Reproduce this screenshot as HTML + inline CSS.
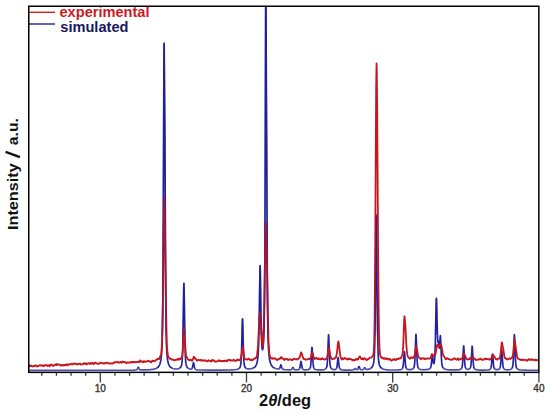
<!DOCTYPE html>
<html><head><meta charset="utf-8"><style>
html,body{margin:0;padding:0;background:#fff;width:550px;height:414px;overflow:hidden}
svg{display:block}
.tk{stroke:#3a3a3a;stroke-width:1.3}
.tl{font-family:"Liberation Sans",sans-serif;font-size:10px;fill:#333;stroke:#333;stroke-width:0.35;text-anchor:middle}
.lg{font-family:"Liberation Sans",sans-serif;font-weight:bold;font-size:14.6px}
</style></head><body>
<svg width="550" height="414" viewBox="0 0 550 414">
<defs><clipPath id="c"><rect x="28.75" y="6.25" width="510.1" height="366.1"/></clipPath>
<clipPath id="cu"><rect x="28.75" y="6.25" width="510.1" height="362.4"/></clipPath>
<clipPath id="co"><rect x="28.75" y="6.25" width="510.1" height="328.8"/></clipPath>
<clipPath id="cl"><rect x="28.75" y="368.6" width="510.1" height="3.8"/></clipPath></defs>
<rect width="550" height="414" fill="#fff"/>
<g clip-path="url(#c)" fill="none" stroke-linejoin="round">
<path d="M27.75 370.29 L108.95 370.24 L133.75 370.11 L135.75 370.00 L136.75 369.75 L137.35 369.13 L138.15 367.48 L138.35 367.40 L138.55 367.63 L139.35 369.26 L139.75 369.65 L140.15 369.82 L142.15 369.97 L146.95 369.86 L150.15 369.67 L152.55 369.40 L154.35 369.07 L155.95 368.56 L157.15 367.94 L158.15 367.12 L158.95 366.11 L159.75 364.51 L160.35 362.61 L160.95 359.60 L161.35 356.48 L161.75 351.73 L162.15 343.46 L162.55 325.59 L162.95 283.06 L163.15 246.14 L163.95 45.68 L164.15 43.34 L164.95 134.69 L165.55 266.00 L165.95 320.95 L166.35 342.60 L166.75 351.56 L167.35 358.22 L167.75 360.83 L168.35 363.37 L168.75 364.52 L169.35 365.75 L169.95 366.62 L170.75 367.40 L171.75 368.04 L172.75 368.45 L174.15 368.79 L175.55 368.95 L176.95 368.95 L178.15 368.79 L179.15 368.47 L179.95 367.97 L180.55 367.33 L180.95 366.67 L181.35 365.69 L181.75 364.09 L182.15 360.99 L182.35 358.19 L182.75 347.52 L183.75 285.92 L183.95 283.30 L184.15 290.76 L184.95 343.39 L185.35 356.34 L185.75 362.09 L186.15 364.69 L186.75 366.60 L187.55 367.86 L188.35 368.53 L189.55 369.02 L190.95 369.17 L191.35 369.10 L191.75 368.90 L192.15 368.36 L192.35 367.86 L193.35 362.90 L193.55 362.70 L193.75 363.33 L194.55 367.69 L194.95 368.77 L195.35 369.26 L195.75 369.49 L197.15 369.80 L200.95 370.01 L208.95 370.10 L222.15 370.08 L230.95 369.94 L234.35 369.77 L236.55 369.51 L238.15 369.07 L239.15 368.47 L239.95 367.46 L240.55 365.75 L240.95 362.99 L241.15 360.46 L241.55 351.32 L242.35 320.35 L242.55 318.80 L242.75 323.18 L243.55 354.13 L243.95 361.74 L244.15 363.77 L244.55 365.98 L245.15 367.41 L245.95 368.25 L246.55 368.57 L247.35 368.80 L249.15 368.91 L251.35 368.65 L252.35 368.39 L253.35 368.00 L254.15 367.55 L254.75 367.08 L255.35 366.45 L255.95 365.56 L256.55 364.26 L256.95 363.02 L257.35 361.29 L257.75 358.72 L258.15 354.54 L258.55 347.02 L259.15 322.84 L259.95 268.31 L260.15 265.50 L260.35 272.49 L261.15 325.32 L261.35 333.74 L261.75 344.09 L261.95 346.89 L262.15 348.61 L262.35 349.50 L262.55 349.75 L262.75 349.43 L263.15 347.16 L263.55 342.27 L263.75 338.41 L264.15 325.90 L264.55 299.98 L264.95 239.90 L265.75 -29.98 L265.95 -21.19 L266.35 87.77 L266.75 151.15 L267.35 280.97 L267.75 324.35 L268.15 341.37 L268.55 349.65 L268.95 354.68 L269.35 358.03 L269.95 361.30 L270.75 363.93 L271.15 364.82 L271.75 365.83 L272.35 366.57 L272.95 367.14 L273.75 367.70 L274.55 368.12 L275.55 368.49 L276.75 368.79 L277.95 368.96 L278.75 368.94 L279.35 368.70 L279.75 368.17 L280.75 364.92 L280.95 364.80 L281.15 365.22 L281.75 367.56 L282.15 368.58 L282.55 369.08 L283.15 369.38 L284.35 369.60 L286.55 369.77 L289.35 369.82 L290.95 369.72 L291.35 369.60 L291.75 369.30 L292.75 367.57 L292.95 367.50 L293.15 367.71 L293.95 369.20 L294.55 369.65 L295.95 369.83 L297.95 369.71 L298.75 369.49 L299.15 369.24 L299.55 368.67 L299.75 368.14 L300.15 366.33 L300.75 362.14 L300.95 361.40 L301.15 361.66 L302.15 367.79 L302.35 368.43 L302.75 369.13 L303.15 369.44 L303.55 369.59 L305.15 369.79 L307.35 369.71 L308.15 369.57 L308.95 369.31 L309.75 368.71 L310.15 368.03 L310.55 366.53 L310.75 365.15 L311.15 360.37 L311.75 349.35 L311.95 347.40 L312.15 348.09 L313.15 364.24 L313.55 367.04 L313.75 367.77 L314.15 368.59 L314.75 369.16 L315.55 369.51 L316.55 369.73 L317.95 369.86 L320.35 369.90 L322.55 369.79 L324.15 369.54 L325.15 369.17 L325.95 368.55 L326.55 367.54 L326.95 366.00 L327.15 364.58 L327.55 359.30 L328.35 337.84 L328.55 334.80 L328.75 335.87 L329.55 357.29 L329.95 363.60 L330.15 365.34 L330.55 367.24 L330.95 368.12 L331.55 368.80 L332.15 369.16 L332.75 369.37 L334.35 369.55 L335.55 369.35 L335.95 369.15 L336.35 368.72 L336.75 367.73 L336.95 366.83 L337.95 358.07 L338.15 357.70 L338.35 358.77 L338.95 364.78 L339.35 367.39 L339.55 368.14 L339.95 368.97 L340.35 369.35 L341.15 369.68 L342.55 369.91 L344.75 370.03 L349.15 370.08 L352.35 370.00 L353.15 369.90 L353.75 369.68 L354.75 368.78 L355.15 368.60 L356.35 369.48 L356.75 369.61 L357.15 369.59 L357.55 369.40 L357.95 368.90 L358.75 366.80 L358.95 366.50 L359.15 366.60 L360.15 369.06 L360.75 369.58 L361.75 369.73 L362.95 369.57 L363.55 369.15 L364.35 367.96 L364.55 367.80 L364.75 367.84 L365.55 368.93 L365.95 369.27 L366.55 369.45 L367.35 369.44 L368.95 369.17 L370.35 368.66 L371.35 367.98 L372.15 367.06 L372.75 365.93 L373.15 364.81 L373.55 363.19 L373.95 360.65 L374.35 355.99 L374.75 345.73 L375.15 322.65 L375.95 228.72 L376.15 215.02 L376.35 218.75 L377.15 299.74 L377.55 328.94 L377.95 348.95 L378.35 357.93 L378.55 360.21 L378.95 363.01 L379.35 364.73 L379.75 365.89 L380.35 367.05 L381.15 367.99 L382.35 368.78 L383.75 369.26 L385.75 369.62 L388.55 369.85 L393.75 369.99 L398.35 369.92 L400.55 369.68 L401.35 369.45 L401.95 369.13 L402.35 368.72 L402.75 367.91 L403.15 366.03 L403.55 362.12 L404.15 353.10 L404.35 351.50 L404.55 352.06 L405.55 365.25 L405.95 367.53 L406.35 368.52 L406.75 368.98 L407.35 369.32 L408.15 369.53 L409.35 369.64 L410.55 369.59 L411.75 369.38 L412.55 369.08 L413.15 368.67 L413.75 367.89 L414.15 366.83 L414.55 364.46 L414.75 362.30 L415.15 354.79 L415.75 337.47 L415.95 334.40 L416.15 335.48 L417.15 360.85 L417.55 365.25 L417.75 366.40 L418.15 367.68 L418.75 368.56 L419.15 368.89 L419.75 369.21 L420.95 369.53 L422.75 369.70 L425.55 369.66 L427.95 369.38 L429.35 368.94 L429.95 368.56 L430.35 368.13 L430.75 367.33 L431.15 365.61 L432.15 356.05 L432.35 355.50 L432.55 356.38 L433.15 361.68 L433.55 363.51 L433.75 363.73 L433.95 363.54 L434.15 362.97 L434.55 360.33 L434.95 354.31 L435.35 342.40 L436.15 303.32 L436.35 298.30 L436.55 299.56 L437.35 332.82 L437.75 341.21 L437.95 342.09 L438.35 341.00 L438.55 341.36 L439.15 347.45 L439.35 348.19 L439.55 347.29 L440.15 337.33 L440.35 335.50 L440.55 337.02 L441.35 356.93 L441.75 362.79 L442.15 365.58 L442.55 366.90 L443.15 367.90 L443.95 368.62 L445.35 369.24 L447.15 369.61 L449.95 369.85 L453.75 369.95 L456.95 369.91 L459.15 369.72 L460.55 369.32 L461.35 368.74 L461.75 368.13 L462.15 366.83 L462.55 363.84 L463.55 346.64 L463.75 345.90 L463.95 347.98 L464.55 359.69 L464.95 364.77 L465.15 366.23 L465.55 367.81 L465.95 368.52 L466.55 369.01 L467.15 369.23 L467.75 369.32 L468.55 369.28 L469.15 369.11 L469.95 368.54 L470.35 367.85 L470.55 367.24 L470.95 364.85 L471.15 362.73 L471.95 348.25 L472.15 346.20 L472.35 346.93 L473.15 361.44 L473.55 365.72 L473.75 366.90 L474.15 368.19 L474.55 368.80 L475.15 369.27 L476.35 369.70 L477.95 369.92 L480.75 370.05 L484.55 370.07 L486.95 369.99 L488.55 369.83 L489.55 369.57 L490.35 369.08 L490.75 368.50 L490.95 367.97 L491.35 365.98 L492.35 354.49 L492.55 354.00 L492.75 355.39 L493.55 365.17 L493.75 366.59 L494.15 368.21 L494.35 368.62 L494.75 369.09 L495.35 369.42 L495.95 369.57 L496.75 369.65 L497.75 369.59 L498.55 369.41 L499.15 369.12 L499.55 368.75 L499.95 368.04 L500.35 366.40 L500.75 362.80 L501.55 350.61 L501.75 350.00 L501.95 351.73 L502.75 363.95 L503.15 366.96 L503.55 368.29 L503.95 368.88 L504.35 369.21 L504.95 369.48 L505.95 369.70 L507.35 369.79 L508.95 369.72 L510.15 369.51 L510.95 369.21 L511.75 368.60 L512.35 367.59 L512.75 366.04 L512.95 364.62 L513.35 359.32 L514.15 337.76 L514.35 334.70 L514.55 335.78 L515.35 357.32 L515.75 363.67 L516.15 366.58 L516.55 367.87 L516.95 368.53 L517.55 369.09 L518.55 369.57 L519.75 369.84 L521.35 370.01 L526.95 370.19 L539.75 370.26" stroke="#2222a2" stroke-width="1.65" clip-path="url(#cu)"/>
<path d="M27.75 370.29 L108.95 370.24 L133.75 370.11 L135.75 370.00 L136.75 369.75 L137.35 369.13 L138.15 367.48 L138.35 367.40 L138.55 367.63 L139.35 369.26 L139.75 369.65 L140.15 369.82 L142.15 369.97 L146.95 369.86 L150.15 369.67 L152.55 369.40 L154.35 369.07 L155.95 368.56 L157.15 367.94 L158.15 367.12 L158.95 366.11 L159.75 364.51 L160.35 362.61 L160.95 359.60 L161.35 356.48 L161.75 351.73 L162.15 343.46 L162.55 325.59 L162.95 283.06 L163.15 246.14 L163.95 45.68 L164.15 43.34 L164.95 134.69 L165.55 266.00 L165.95 320.95 L166.35 342.60 L166.75 351.56 L167.35 358.22 L167.75 360.83 L168.35 363.37 L168.75 364.52 L169.35 365.75 L169.95 366.62 L170.75 367.40 L171.75 368.04 L172.75 368.45 L174.15 368.79 L175.55 368.95 L176.95 368.95 L178.15 368.79 L179.15 368.47 L179.95 367.97 L180.55 367.33 L180.95 366.67 L181.35 365.69 L181.75 364.09 L182.15 360.99 L182.35 358.19 L182.75 347.52 L183.75 285.92 L183.95 283.30 L184.15 290.76 L184.95 343.39 L185.35 356.34 L185.75 362.09 L186.15 364.69 L186.75 366.60 L187.55 367.86 L188.35 368.53 L189.55 369.02 L190.95 369.17 L191.35 369.10 L191.75 368.90 L192.15 368.36 L192.35 367.86 L193.35 362.90 L193.55 362.70 L193.75 363.33 L194.55 367.69 L194.95 368.77 L195.35 369.26 L195.75 369.49 L197.15 369.80 L200.95 370.01 L208.95 370.10 L222.15 370.08 L230.95 369.94 L234.35 369.77 L236.55 369.51 L238.15 369.07 L239.15 368.47 L239.95 367.46 L240.55 365.75 L240.95 362.99 L241.15 360.46 L241.55 351.32 L242.35 320.35 L242.55 318.80 L242.75 323.18 L243.55 354.13 L243.95 361.74 L244.15 363.77 L244.55 365.98 L245.15 367.41 L245.95 368.25 L246.55 368.57 L247.35 368.80 L249.15 368.91 L251.35 368.65 L252.35 368.39 L253.35 368.00 L254.15 367.55 L254.75 367.08 L255.35 366.45 L255.95 365.56 L256.55 364.26 L256.95 363.02 L257.35 361.29 L257.75 358.72 L258.15 354.54 L258.55 347.02 L259.15 322.84 L259.95 268.31 L260.15 265.50 L260.35 272.49 L261.15 325.32 L261.35 333.74 L261.75 344.09 L261.95 346.89 L262.15 348.61 L262.35 349.50 L262.55 349.75 L262.75 349.43 L263.15 347.16 L263.55 342.27 L263.75 338.41 L264.15 325.90 L264.55 299.98 L264.95 239.90 L265.75 -29.98 L265.95 -21.19 L266.35 87.77 L266.75 151.15 L267.35 280.97 L267.75 324.35 L268.15 341.37 L268.55 349.65 L268.95 354.68 L269.35 358.03 L269.95 361.30 L270.75 363.93 L271.15 364.82 L271.75 365.83 L272.35 366.57 L272.95 367.14 L273.75 367.70 L274.55 368.12 L275.55 368.49 L276.75 368.79 L277.95 368.96 L278.75 368.94 L279.35 368.70 L279.75 368.17 L280.75 364.92 L280.95 364.80 L281.15 365.22 L281.75 367.56 L282.15 368.58 L282.55 369.08 L283.15 369.38 L284.35 369.60 L286.55 369.77 L289.35 369.82 L290.95 369.72 L291.35 369.60 L291.75 369.30 L292.75 367.57 L292.95 367.50 L293.15 367.71 L293.95 369.20 L294.55 369.65 L295.95 369.83 L297.95 369.71 L298.75 369.49 L299.15 369.24 L299.55 368.67 L299.75 368.14 L300.15 366.33 L300.75 362.14 L300.95 361.40 L301.15 361.66 L302.15 367.79 L302.35 368.43 L302.75 369.13 L303.15 369.44 L303.55 369.59 L305.15 369.79 L307.35 369.71 L308.15 369.57 L308.95 369.31 L309.75 368.71 L310.15 368.03 L310.55 366.53 L310.75 365.15 L311.15 360.37 L311.75 349.35 L311.95 347.40 L312.15 348.09 L313.15 364.24 L313.55 367.04 L313.75 367.77 L314.15 368.59 L314.75 369.16 L315.55 369.51 L316.55 369.73 L317.95 369.86 L320.35 369.90 L322.55 369.79 L324.15 369.54 L325.15 369.17 L325.95 368.55 L326.55 367.54 L326.95 366.00 L327.15 364.58 L327.55 359.30 L328.35 337.84 L328.55 334.80 L328.75 335.87 L329.55 357.29 L329.95 363.60 L330.15 365.34 L330.55 367.24 L330.95 368.12 L331.55 368.80 L332.15 369.16 L332.75 369.37 L334.35 369.55 L335.55 369.35 L335.95 369.15 L336.35 368.72 L336.75 367.73 L336.95 366.83 L337.95 358.07 L338.15 357.70 L338.35 358.77 L338.95 364.78 L339.35 367.39 L339.55 368.14 L339.95 368.97 L340.35 369.35 L341.15 369.68 L342.55 369.91 L344.75 370.03 L349.15 370.08 L352.35 370.00 L353.15 369.90 L353.75 369.68 L354.75 368.78 L355.15 368.60 L356.35 369.48 L356.75 369.61 L357.15 369.59 L357.55 369.40 L357.95 368.90 L358.75 366.80 L358.95 366.50 L359.15 366.60 L360.15 369.06 L360.75 369.58 L361.75 369.73 L362.95 369.57 L363.55 369.15 L364.35 367.96 L364.55 367.80 L364.75 367.84 L365.55 368.93 L365.95 369.27 L366.55 369.45 L367.35 369.44 L368.95 369.17 L370.35 368.66 L371.35 367.98 L372.15 367.06 L372.75 365.93 L373.15 364.81 L373.55 363.19 L373.95 360.65 L374.35 355.99 L374.75 345.73 L375.15 322.65 L375.95 228.72 L376.15 215.02 L376.35 218.75 L377.15 299.74 L377.55 328.94 L377.95 348.95 L378.35 357.93 L378.55 360.21 L378.95 363.01 L379.35 364.73 L379.75 365.89 L380.35 367.05 L381.15 367.99 L382.35 368.78 L383.75 369.26 L385.75 369.62 L388.55 369.85 L393.75 369.99 L398.35 369.92 L400.55 369.68 L401.35 369.45 L401.95 369.13 L402.35 368.72 L402.75 367.91 L403.15 366.03 L403.55 362.12 L404.15 353.10 L404.35 351.50 L404.55 352.06 L405.55 365.25 L405.95 367.53 L406.35 368.52 L406.75 368.98 L407.35 369.32 L408.15 369.53 L409.35 369.64 L410.55 369.59 L411.75 369.38 L412.55 369.08 L413.15 368.67 L413.75 367.89 L414.15 366.83 L414.55 364.46 L414.75 362.30 L415.15 354.79 L415.75 337.47 L415.95 334.40 L416.15 335.48 L417.15 360.85 L417.55 365.25 L417.75 366.40 L418.15 367.68 L418.75 368.56 L419.15 368.89 L419.75 369.21 L420.95 369.53 L422.75 369.70 L425.55 369.66 L427.95 369.38 L429.35 368.94 L429.95 368.56 L430.35 368.13 L430.75 367.33 L431.15 365.61 L432.15 356.05 L432.35 355.50 L432.55 356.38 L433.15 361.68 L433.55 363.51 L433.75 363.73 L433.95 363.54 L434.15 362.97 L434.55 360.33 L434.95 354.31 L435.35 342.40 L436.15 303.32 L436.35 298.30 L436.55 299.56 L437.35 332.82 L437.75 341.21 L437.95 342.09 L438.35 341.00 L438.55 341.36 L439.15 347.45 L439.35 348.19 L439.55 347.29 L440.15 337.33 L440.35 335.50 L440.55 337.02 L441.35 356.93 L441.75 362.79 L442.15 365.58 L442.55 366.90 L443.15 367.90 L443.95 368.62 L445.35 369.24 L447.15 369.61 L449.95 369.85 L453.75 369.95 L456.95 369.91 L459.15 369.72 L460.55 369.32 L461.35 368.74 L461.75 368.13 L462.15 366.83 L462.55 363.84 L463.55 346.64 L463.75 345.90 L463.95 347.98 L464.55 359.69 L464.95 364.77 L465.15 366.23 L465.55 367.81 L465.95 368.52 L466.55 369.01 L467.15 369.23 L467.75 369.32 L468.55 369.28 L469.15 369.11 L469.95 368.54 L470.35 367.85 L470.55 367.24 L470.95 364.85 L471.15 362.73 L471.95 348.25 L472.15 346.20 L472.35 346.93 L473.15 361.44 L473.55 365.72 L473.75 366.90 L474.15 368.19 L474.55 368.80 L475.15 369.27 L476.35 369.70 L477.95 369.92 L480.75 370.05 L484.55 370.07 L486.95 369.99 L488.55 369.83 L489.55 369.57 L490.35 369.08 L490.75 368.50 L490.95 367.97 L491.35 365.98 L492.35 354.49 L492.55 354.00 L492.75 355.39 L493.55 365.17 L493.75 366.59 L494.15 368.21 L494.35 368.62 L494.75 369.09 L495.35 369.42 L495.95 369.57 L496.75 369.65 L497.75 369.59 L498.55 369.41 L499.15 369.12 L499.55 368.75 L499.95 368.04 L500.35 366.40 L500.75 362.80 L501.55 350.61 L501.75 350.00 L501.95 351.73 L502.75 363.95 L503.15 366.96 L503.55 368.29 L503.95 368.88 L504.35 369.21 L504.95 369.48 L505.95 369.70 L507.35 369.79 L508.95 369.72 L510.15 369.51 L510.95 369.21 L511.75 368.60 L512.35 367.59 L512.75 366.04 L512.95 364.62 L513.35 359.32 L514.15 337.76 L514.35 334.70 L514.55 335.78 L515.35 357.32 L515.75 363.67 L516.15 366.58 L516.55 367.87 L516.95 368.53 L517.55 369.09 L518.55 369.57 L519.75 369.84 L521.35 370.01 L526.95 370.19 L539.75 370.26" stroke="#5050b0" stroke-width="1.7" clip-path="url(#cl)"/>
<path d="M27.75 366.14 L28.15 365.65 L28.95 365.26 L29.55 366.45 L30.15 365.53 L30.55 365.31 L31.15 365.91 L31.75 366.20 L31.95 366.30 L32.35 366.08 L32.95 366.46 L33.75 365.88 L34.35 366.11 L35.15 365.25 L35.95 365.80 L36.35 365.75 L37.15 366.64 L37.95 365.96 L38.35 365.96 L38.95 365.31 L39.55 365.48 L40.55 365.18 L40.95 365.58 L41.55 365.38 L42.15 365.84 L42.55 365.65 L42.95 365.76 L43.35 365.45 L44.15 366.17 L44.95 365.10 L45.75 365.10 L46.15 365.37 L46.55 365.06 L46.75 365.07 L47.35 365.95 L47.95 365.50 L48.75 365.28 L49.55 366.33 L49.75 366.20 L50.35 364.70 L51.35 364.93 L51.75 364.48 L52.55 365.76 L52.95 365.74 L53.35 365.98 L54.15 364.99 L54.75 365.19 L55.55 364.44 L56.15 365.05 L56.75 364.04 L57.55 364.91 L58.55 364.28 L59.15 364.40 L60.55 365.52 L61.15 364.91 L61.95 365.50 L62.95 364.83 L63.75 365.67 L64.35 364.90 L64.95 364.86 L65.55 365.14 L66.55 364.18 L67.55 365.46 L67.75 365.44 L68.35 364.41 L68.75 364.10 L69.55 364.58 L70.15 364.17 L70.95 364.23 L71.75 363.69 L72.35 364.46 L73.95 363.43 L74.95 363.90 L75.55 363.70 L76.15 364.31 L76.75 363.90 L77.15 364.42 L77.55 364.22 L78.15 364.31 L78.75 363.88 L79.35 363.84 L79.95 363.43 L80.55 364.36 L80.95 364.59 L82.75 363.99 L83.15 364.01 L83.95 363.28 L84.15 363.22 L84.95 363.75 L85.55 363.26 L85.75 363.28 L86.35 364.31 L86.75 364.50 L87.35 363.59 L88.75 363.10 L89.55 363.90 L90.15 363.05 L90.35 363.01 L90.95 363.86 L91.55 363.63 L92.35 362.80 L92.75 362.93 L93.55 364.24 L95.15 362.56 L95.75 363.30 L96.15 363.13 L96.95 363.53 L97.75 363.39 L98.55 363.98 L98.95 363.45 L99.95 363.45 L100.55 362.48 L100.95 362.94 L101.55 362.79 L103.15 363.60 L103.75 363.06 L104.75 363.67 L104.95 363.62 L105.55 362.66 L106.15 363.10 L106.75 362.68 L107.15 362.95 L107.75 362.62 L108.95 363.75 L109.95 363.29 L110.55 363.48 L110.95 363.21 L111.75 363.60 L112.35 363.46 L112.95 363.69 L114.35 362.20 L115.15 362.57 L116.15 361.87 L117.75 362.39 L118.35 362.14 L118.95 362.90 L119.55 362.38 L120.55 361.98 L121.35 362.86 L121.95 361.56 L122.55 361.81 L123.15 361.75 L123.75 362.19 L124.35 361.83 L125.15 362.04 L125.95 363.03 L126.35 363.24 L126.75 363.03 L127.35 362.30 L127.95 362.65 L128.75 362.68 L129.55 362.16 L130.35 362.72 L131.55 361.81 L131.95 362.03 L132.35 361.87 L132.95 362.54 L133.95 361.83 L134.55 361.91 L135.15 362.41 L135.95 361.94 L136.75 362.19 L138.15 361.44 L138.75 362.13 L138.95 362.12 L139.35 361.90 L139.75 361.94 L140.35 360.34 L140.95 361.43 L141.55 361.51 L142.15 361.86 L142.55 361.69 L143.15 362.26 L143.75 361.10 L144.35 361.81 L144.95 361.32 L146.15 361.91 L146.75 361.42 L147.55 361.43 L148.15 360.79 L148.95 361.39 L149.55 361.10 L149.75 361.21 L150.55 362.22 L151.15 362.44 L151.75 361.28 L152.35 360.67 L153.15 361.10 L153.75 360.94 L154.35 361.27 L155.35 360.68 L156.15 359.75 L156.75 359.83 L157.75 358.58 L158.35 358.56 L159.15 359.13 L159.35 359.05 L160.35 355.90 L160.95 355.07 L161.15 354.27 L161.75 347.00 L162.15 337.27 L162.75 308.79 L163.95 209.97 L164.35 195.95 L164.75 207.10 L165.95 304.35 L166.75 341.55 L167.15 349.30 L167.95 355.60 L168.35 357.20 L169.75 358.31 L170.15 358.93 L170.95 358.84 L171.55 359.62 L171.95 359.44 L173.55 359.77 L174.15 360.43 L174.95 359.88 L175.55 360.04 L176.15 359.69 L176.95 359.76 L177.75 358.73 L178.15 358.90 L178.75 359.77 L178.95 359.76 L179.75 358.62 L179.95 358.67 L180.35 359.35 L180.75 359.22 L181.55 357.45 L181.95 357.03 L182.35 355.16 L182.75 350.88 L183.75 332.18 L184.15 327.52 L184.55 331.39 L185.35 347.62 L185.95 354.85 L186.35 356.82 L186.55 357.03 L186.95 357.06 L187.75 359.28 L189.15 360.22 L189.55 360.27 L190.35 359.55 L191.15 359.92 L191.75 360.89 L192.15 360.85 L192.55 360.18 L193.75 356.70 L193.95 356.71 L194.15 357.10 L194.55 358.27 L194.75 358.42 L195.15 358.21 L195.35 358.35 L196.95 360.72 L197.55 360.15 L198.35 359.84 L199.95 360.22 L200.55 360.57 L201.15 359.77 L201.75 360.73 L202.35 360.29 L202.75 360.57 L203.15 360.38 L204.15 360.46 L204.55 360.74 L205.15 360.24 L205.95 360.51 L206.35 361.08 L207.55 361.27 L208.75 360.16 L209.75 360.94 L210.35 360.84 L211.15 361.64 L212.35 359.70 L212.95 360.84 L213.55 360.36 L213.95 360.41 L214.35 360.64 L215.15 361.60 L215.95 361.77 L216.55 361.32 L217.15 361.43 L217.55 361.09 L218.15 361.11 L218.95 360.23 L219.75 360.57 L220.35 361.10 L220.75 360.84 L221.15 361.11 L221.95 361.24 L222.55 360.88 L223.55 361.24 L224.15 360.91 L224.55 361.25 L225.35 360.38 L226.35 361.15 L226.95 361.25 L227.55 360.05 L227.95 360.09 L228.35 359.82 L228.95 360.30 L229.75 359.90 L230.55 360.72 L231.35 360.15 L231.95 360.52 L232.95 360.56 L233.75 359.58 L234.35 360.36 L235.35 361.14 L235.95 360.58 L236.55 360.36 L237.15 359.35 L237.75 360.41 L238.35 359.93 L239.55 360.35 L240.75 358.17 L241.55 355.25 L242.35 348.59 L242.55 347.43 L242.75 347.21 L243.15 348.63 L244.15 356.48 L244.55 358.33 L244.95 359.05 L245.55 359.28 L245.95 359.18 L246.75 359.65 L247.15 359.64 L247.75 359.00 L248.15 359.09 L248.75 358.56 L249.35 359.33 L249.95 359.65 L250.35 360.15 L250.95 360.26 L251.55 359.37 L252.35 360.39 L252.95 359.53 L253.15 359.32 L253.55 359.34 L254.15 358.49 L255.15 358.60 L255.35 358.52 L255.95 357.42 L256.35 357.70 L256.75 356.62 L257.15 354.17 L257.95 346.67 L259.35 318.14 L259.95 312.14 L260.15 312.12 L260.55 315.55 L262.15 344.20 L262.35 345.56 L262.55 346.22 L262.75 346.20 L263.15 342.77 L263.95 319.05 L265.35 237.88 L265.75 224.53 L265.95 222.72 L266.15 224.45 L266.55 238.03 L267.75 310.71 L268.55 341.44 L269.35 353.86 L269.95 356.47 L271.15 358.34 L271.35 358.52 L272.15 358.17 L272.75 358.74 L273.35 358.33 L273.95 358.56 L274.35 358.19 L275.15 358.31 L276.15 359.60 L276.55 359.64 L277.15 360.20 L277.95 359.02 L278.75 359.41 L279.55 358.48 L280.15 358.66 L280.35 358.53 L281.15 357.06 L281.55 357.34 L282.15 358.38 L282.35 358.55 L282.95 358.45 L284.35 360.03 L284.95 358.96 L285.35 358.73 L285.95 359.07 L286.55 359.03 L286.95 359.35 L287.35 358.92 L287.55 359.00 L288.15 360.13 L289.55 359.10 L290.35 359.66 L290.75 359.61 L291.15 359.88 L291.55 359.77 L292.35 360.14 L292.55 360.08 L293.15 358.95 L293.55 359.03 L294.15 358.55 L294.55 358.91 L295.55 359.29 L296.55 359.04 L297.15 359.52 L297.75 359.00 L298.35 358.92 L298.95 358.09 L299.55 357.72 L301.15 352.37 L301.35 352.44 L301.75 353.30 L302.55 356.37 L303.55 359.03 L303.95 359.23 L304.55 358.88 L305.75 359.89 L305.95 359.87 L306.95 359.12 L308.15 359.30 L308.95 358.64 L309.15 358.61 L309.75 359.21 L310.15 359.01 L310.95 357.45 L311.75 353.73 L312.15 352.60 L312.35 352.48 L312.75 353.29 L313.55 356.59 L314.75 359.04 L315.95 357.95 L316.35 357.82 L317.15 358.98 L317.95 359.06 L318.55 358.32 L319.35 358.67 L319.95 359.25 L320.55 358.58 L321.15 359.36 L321.35 359.35 L322.35 358.26 L322.55 358.24 L323.15 359.28 L323.55 359.15 L324.75 359.68 L325.35 359.13 L326.15 359.05 L327.15 357.04 L327.55 355.39 L328.55 348.72 L328.75 348.29 L328.95 348.24 L329.35 349.43 L330.15 354.49 L330.95 357.68 L331.35 358.64 L332.55 359.26 L333.35 358.59 L334.35 358.79 L335.15 357.73 L335.75 357.95 L335.95 357.53 L336.95 352.87 L337.95 343.18 L338.35 341.36 L338.75 343.02 L340.35 356.30 L340.75 357.65 L341.75 359.53 L342.55 358.32 L343.35 359.22 L344.35 358.04 L344.95 358.52 L345.55 358.43 L346.35 358.75 L346.95 359.56 L347.55 358.64 L347.75 358.59 L348.15 359.26 L348.75 358.49 L349.55 359.17 L350.35 358.83 L351.35 359.58 L351.95 359.64 L352.55 360.32 L353.35 359.80 L354.35 360.54 L356.15 358.90 L356.75 359.73 L356.95 359.73 L357.55 358.95 L358.15 359.42 L358.95 357.49 L359.75 356.31 L359.95 356.32 L360.55 357.71 L361.55 359.14 L361.95 359.04 L362.55 358.17 L363.15 359.44 L364.15 358.79 L364.55 358.07 L364.75 358.12 L365.15 358.92 L365.75 358.89 L366.55 360.20 L366.95 359.73 L367.55 359.58 L368.15 358.99 L368.75 358.88 L369.95 357.52 L370.75 357.67 L371.55 357.49 L373.15 355.36 L373.75 351.88 L374.15 343.85 L374.55 324.84 L375.15 259.45 L376.15 87.59 L376.55 63.38 L376.75 68.79 L377.15 105.73 L378.15 256.28 L378.75 318.15 L379.15 338.88 L379.55 349.09 L380.15 354.89 L380.75 356.93 L381.55 357.78 L381.95 357.46 L382.35 357.51 L383.35 358.74 L383.55 358.74 L384.15 358.03 L384.75 358.09 L385.35 359.22 L385.75 358.73 L386.75 358.18 L387.35 359.36 L387.55 359.38 L387.95 359.01 L388.35 359.43 L388.75 359.54 L389.55 358.78 L389.75 358.83 L391.35 360.66 L392.15 360.25 L392.75 359.39 L393.35 359.72 L394.55 358.90 L394.75 358.91 L395.35 359.99 L395.75 359.78 L396.15 359.93 L396.35 359.85 L396.95 358.60 L397.55 358.84 L398.15 358.82 L398.55 359.19 L399.15 358.44 L400.35 358.07 L400.95 358.42 L401.55 356.54 L402.35 355.09 L402.75 352.07 L403.35 342.80 L404.15 320.41 L404.35 316.96 L404.55 316.26 L405.35 324.97 L406.35 344.74 L406.95 352.33 L407.35 354.70 L407.95 356.69 L408.55 357.64 L409.95 358.81 L410.55 357.73 L411.15 357.20 L411.95 357.92 L412.75 358.19 L412.95 358.11 L413.55 356.86 L414.35 356.48 L414.95 353.50 L415.75 347.30 L415.95 346.41 L416.15 346.32 L417.15 350.42 L418.15 356.12 L419.15 357.94 L419.75 357.96 L420.15 358.51 L420.55 358.60 L420.95 359.28 L421.15 359.21 L421.75 358.15 L422.15 358.39 L422.75 358.38 L423.35 358.61 L423.95 358.16 L424.55 359.20 L425.35 358.64 L425.75 358.88 L426.35 358.67 L426.75 358.79 L427.55 358.37 L428.15 358.53 L429.15 358.47 L429.75 358.78 L430.75 357.47 L431.75 354.21 L432.15 354.25 L433.75 355.87 L434.55 355.86 L435.15 355.20 L435.55 353.75 L436.75 346.24 L437.35 344.41 L438.35 346.36 L438.55 346.60 L439.15 346.72 L440.35 344.26 L440.75 343.86 L441.55 346.37 L442.55 352.26 L443.35 355.59 L443.55 356.13 L444.15 356.27 L445.35 358.74 L445.75 359.22 L446.35 359.08 L446.95 358.12 L447.15 358.08 L447.55 358.25 L448.15 359.08 L448.95 358.87 L449.95 359.65 L451.15 359.66 L451.55 359.94 L452.35 359.22 L452.95 359.60 L453.55 358.65 L454.75 358.25 L455.35 359.06 L455.75 358.98 L456.35 359.71 L456.95 359.36 L457.35 359.42 L457.95 358.30 L458.15 358.44 L458.75 359.95 L459.35 359.37 L459.95 359.22 L460.55 359.32 L461.35 358.45 L462.15 358.88 L462.35 358.74 L463.55 354.09 L463.75 353.53 L463.95 353.51 L465.15 355.81 L466.15 358.62 L466.55 359.12 L467.15 359.10 L467.55 359.58 L467.95 359.51 L468.75 358.86 L469.15 358.81 L469.55 359.15 L469.75 359.06 L470.35 357.69 L470.75 358.04 L471.55 358.13 L472.35 357.30 L473.55 357.69 L474.15 358.74 L474.75 358.45 L475.75 360.07 L476.55 359.93 L476.95 359.66 L477.55 359.72 L477.95 359.37 L478.35 359.55 L478.95 359.35 L479.55 359.48 L480.35 358.39 L481.15 359.36 L481.75 359.37 L482.15 359.73 L482.55 359.66 L483.15 359.91 L483.55 359.78 L483.95 359.16 L484.95 358.56 L485.35 358.71 L485.95 359.47 L486.75 358.63 L487.35 359.16 L488.55 359.37 L489.15 359.04 L489.95 359.82 L490.55 358.98 L491.15 359.03 L492.35 355.37 L492.95 354.66 L493.75 355.93 L494.75 357.03 L495.75 359.05 L495.95 359.25 L496.55 359.10 L497.15 359.77 L498.15 358.55 L499.35 358.64 L500.15 356.82 L500.75 352.38 L501.55 343.79 L501.75 342.64 L501.95 342.43 L503.35 349.43 L504.35 356.34 L504.75 358.00 L505.55 357.90 L506.35 359.19 L506.95 358.86 L507.55 359.47 L508.35 358.92 L508.95 358.90 L509.55 358.37 L509.95 358.54 L510.35 359.06 L511.35 357.78 L511.95 357.81 L512.15 357.55 L512.95 355.24 L513.55 349.88 L514.15 341.39 L514.55 339.03 L517.15 357.00 L517.35 357.65 L518.35 358.95 L519.15 359.30 L519.75 359.22 L520.35 359.99 L520.95 359.71 L521.35 359.90 L521.95 359.43 L522.75 360.35 L523.35 359.94 L524.35 359.91 L524.95 359.55 L525.75 360.31 L526.15 360.36 L526.55 360.15 L527.15 360.77 L528.35 359.29 L529.15 359.77 L529.75 359.15 L530.35 359.88 L530.95 359.58 L531.55 359.91 L532.15 359.25 L532.95 359.95 L533.95 359.90 L534.55 360.44 L535.35 359.54 L536.15 360.26 L537.15 359.96 L538.15 360.52 L538.95 359.66 L539.75 360.48" stroke="#c8161e" stroke-width="1.8"/>
<path d="M27.75 370.29 L108.95 370.24 L133.75 370.11 L135.75 370.00 L136.75 369.75 L137.35 369.13 L138.15 367.48 L138.35 367.40 L138.55 367.63 L139.35 369.26 L139.75 369.65 L140.15 369.82 L142.15 369.97 L146.95 369.86 L150.15 369.67 L152.55 369.40 L154.35 369.07 L155.95 368.56 L157.15 367.94 L158.15 367.12 L158.95 366.11 L159.75 364.51 L160.35 362.61 L160.95 359.60 L161.35 356.48 L161.75 351.73 L162.15 343.46 L162.55 325.59 L162.95 283.06 L163.15 246.14 L163.95 45.68 L164.15 43.34 L164.95 134.69 L165.55 266.00 L165.95 320.95 L166.35 342.60 L166.75 351.56 L167.35 358.22 L167.75 360.83 L168.35 363.37 L168.75 364.52 L169.35 365.75 L169.95 366.62 L170.75 367.40 L171.75 368.04 L172.75 368.45 L174.15 368.79 L175.55 368.95 L176.95 368.95 L178.15 368.79 L179.15 368.47 L179.95 367.97 L180.55 367.33 L180.95 366.67 L181.35 365.69 L181.75 364.09 L182.15 360.99 L182.35 358.19 L182.75 347.52 L183.75 285.92 L183.95 283.30 L184.15 290.76 L184.95 343.39 L185.35 356.34 L185.75 362.09 L186.15 364.69 L186.75 366.60 L187.55 367.86 L188.35 368.53 L189.55 369.02 L190.95 369.17 L191.35 369.10 L191.75 368.90 L192.15 368.36 L192.35 367.86 L193.35 362.90 L193.55 362.70 L193.75 363.33 L194.55 367.69 L194.95 368.77 L195.35 369.26 L195.75 369.49 L197.15 369.80 L200.95 370.01 L208.95 370.10 L222.15 370.08 L230.95 369.94 L234.35 369.77 L236.55 369.51 L238.15 369.07 L239.15 368.47 L239.95 367.46 L240.55 365.75 L240.95 362.99 L241.15 360.46 L241.55 351.32 L242.35 320.35 L242.55 318.80 L242.75 323.18 L243.55 354.13 L243.95 361.74 L244.15 363.77 L244.55 365.98 L245.15 367.41 L245.95 368.25 L246.55 368.57 L247.35 368.80 L249.15 368.91 L251.35 368.65 L252.35 368.39 L253.35 368.00 L254.15 367.55 L254.75 367.08 L255.35 366.45 L255.95 365.56 L256.55 364.26 L256.95 363.02 L257.35 361.29 L257.75 358.72 L258.15 354.54 L258.55 347.02 L259.15 322.84 L259.95 268.31 L260.15 265.50 L260.35 272.49 L261.15 325.32 L261.35 333.74 L261.75 344.09 L261.95 346.89 L262.15 348.61 L262.35 349.50 L262.55 349.75 L262.75 349.43 L263.15 347.16 L263.55 342.27 L263.75 338.41 L264.15 325.90 L264.55 299.98 L264.95 239.90 L265.75 -29.98 L265.95 -21.19 L266.35 87.77 L266.75 151.15 L267.35 280.97 L267.75 324.35 L268.15 341.37 L268.55 349.65 L268.95 354.68 L269.35 358.03 L269.95 361.30 L270.75 363.93 L271.15 364.82 L271.75 365.83 L272.35 366.57 L272.95 367.14 L273.75 367.70 L274.55 368.12 L275.55 368.49 L276.75 368.79 L277.95 368.96 L278.75 368.94 L279.35 368.70 L279.75 368.17 L280.75 364.92 L280.95 364.80 L281.15 365.22 L281.75 367.56 L282.15 368.58 L282.55 369.08 L283.15 369.38 L284.35 369.60 L286.55 369.77 L289.35 369.82 L290.95 369.72 L291.35 369.60 L291.75 369.30 L292.75 367.57 L292.95 367.50 L293.15 367.71 L293.95 369.20 L294.55 369.65 L295.95 369.83 L297.95 369.71 L298.75 369.49 L299.15 369.24 L299.55 368.67 L299.75 368.14 L300.15 366.33 L300.75 362.14 L300.95 361.40 L301.15 361.66 L302.15 367.79 L302.35 368.43 L302.75 369.13 L303.15 369.44 L303.55 369.59 L305.15 369.79 L307.35 369.71 L308.15 369.57 L308.95 369.31 L309.75 368.71 L310.15 368.03 L310.55 366.53 L310.75 365.15 L311.15 360.37 L311.75 349.35 L311.95 347.40 L312.15 348.09 L313.15 364.24 L313.55 367.04 L313.75 367.77 L314.15 368.59 L314.75 369.16 L315.55 369.51 L316.55 369.73 L317.95 369.86 L320.35 369.90 L322.55 369.79 L324.15 369.54 L325.15 369.17 L325.95 368.55 L326.55 367.54 L326.95 366.00 L327.15 364.58 L327.55 359.30 L328.35 337.84 L328.55 334.80 L328.75 335.87 L329.55 357.29 L329.95 363.60 L330.15 365.34 L330.55 367.24 L330.95 368.12 L331.55 368.80 L332.15 369.16 L332.75 369.37 L334.35 369.55 L335.55 369.35 L335.95 369.15 L336.35 368.72 L336.75 367.73 L336.95 366.83 L337.95 358.07 L338.15 357.70 L338.35 358.77 L338.95 364.78 L339.35 367.39 L339.55 368.14 L339.95 368.97 L340.35 369.35 L341.15 369.68 L342.55 369.91 L344.75 370.03 L349.15 370.08 L352.35 370.00 L353.15 369.90 L353.75 369.68 L354.75 368.78 L355.15 368.60 L356.35 369.48 L356.75 369.61 L357.15 369.59 L357.55 369.40 L357.95 368.90 L358.75 366.80 L358.95 366.50 L359.15 366.60 L360.15 369.06 L360.75 369.58 L361.75 369.73 L362.95 369.57 L363.55 369.15 L364.35 367.96 L364.55 367.80 L364.75 367.84 L365.55 368.93 L365.95 369.27 L366.55 369.45 L367.35 369.44 L368.95 369.17 L370.35 368.66 L371.35 367.98 L372.15 367.06 L372.75 365.93 L373.15 364.81 L373.55 363.19 L373.95 360.65 L374.35 355.99 L374.75 345.73 L375.15 322.65 L375.95 228.72 L376.15 215.02 L376.35 218.75 L377.15 299.74 L377.55 328.94 L377.95 348.95 L378.35 357.93 L378.55 360.21 L378.95 363.01 L379.35 364.73 L379.75 365.89 L380.35 367.05 L381.15 367.99 L382.35 368.78 L383.75 369.26 L385.75 369.62 L388.55 369.85 L393.75 369.99 L398.35 369.92 L400.55 369.68 L401.35 369.45 L401.95 369.13 L402.35 368.72 L402.75 367.91 L403.15 366.03 L403.55 362.12 L404.15 353.10 L404.35 351.50 L404.55 352.06 L405.55 365.25 L405.95 367.53 L406.35 368.52 L406.75 368.98 L407.35 369.32 L408.15 369.53 L409.35 369.64 L410.55 369.59 L411.75 369.38 L412.55 369.08 L413.15 368.67 L413.75 367.89 L414.15 366.83 L414.55 364.46 L414.75 362.30 L415.15 354.79 L415.75 337.47 L415.95 334.40 L416.15 335.48 L417.15 360.85 L417.55 365.25 L417.75 366.40 L418.15 367.68 L418.75 368.56 L419.15 368.89 L419.75 369.21 L420.95 369.53 L422.75 369.70 L425.55 369.66 L427.95 369.38 L429.35 368.94 L429.95 368.56 L430.35 368.13 L430.75 367.33 L431.15 365.61 L432.15 356.05 L432.35 355.50 L432.55 356.38 L433.15 361.68 L433.55 363.51 L433.75 363.73 L433.95 363.54 L434.15 362.97 L434.55 360.33 L434.95 354.31 L435.35 342.40 L436.15 303.32 L436.35 298.30 L436.55 299.56 L437.35 332.82 L437.75 341.21 L437.95 342.09 L438.35 341.00 L438.55 341.36 L439.15 347.45 L439.35 348.19 L439.55 347.29 L440.15 337.33 L440.35 335.50 L440.55 337.02 L441.35 356.93 L441.75 362.79 L442.15 365.58 L442.55 366.90 L443.15 367.90 L443.95 368.62 L445.35 369.24 L447.15 369.61 L449.95 369.85 L453.75 369.95 L456.95 369.91 L459.15 369.72 L460.55 369.32 L461.35 368.74 L461.75 368.13 L462.15 366.83 L462.55 363.84 L463.55 346.64 L463.75 345.90 L463.95 347.98 L464.55 359.69 L464.95 364.77 L465.15 366.23 L465.55 367.81 L465.95 368.52 L466.55 369.01 L467.15 369.23 L467.75 369.32 L468.55 369.28 L469.15 369.11 L469.95 368.54 L470.35 367.85 L470.55 367.24 L470.95 364.85 L471.15 362.73 L471.95 348.25 L472.15 346.20 L472.35 346.93 L473.15 361.44 L473.55 365.72 L473.75 366.90 L474.15 368.19 L474.55 368.80 L475.15 369.27 L476.35 369.70 L477.95 369.92 L480.75 370.05 L484.55 370.07 L486.95 369.99 L488.55 369.83 L489.55 369.57 L490.35 369.08 L490.75 368.50 L490.95 367.97 L491.35 365.98 L492.35 354.49 L492.55 354.00 L492.75 355.39 L493.55 365.17 L493.75 366.59 L494.15 368.21 L494.35 368.62 L494.75 369.09 L495.35 369.42 L495.95 369.57 L496.75 369.65 L497.75 369.59 L498.55 369.41 L499.15 369.12 L499.55 368.75 L499.95 368.04 L500.35 366.40 L500.75 362.80 L501.55 350.61 L501.75 350.00 L501.95 351.73 L502.75 363.95 L503.15 366.96 L503.55 368.29 L503.95 368.88 L504.35 369.21 L504.95 369.48 L505.95 369.70 L507.35 369.79 L508.95 369.72 L510.15 369.51 L510.95 369.21 L511.75 368.60 L512.35 367.59 L512.75 366.04 L512.95 364.62 L513.35 359.32 L514.15 337.76 L514.35 334.70 L514.55 335.78 L515.35 357.32 L515.75 363.67 L516.15 366.58 L516.55 367.87 L516.95 368.53 L517.55 369.09 L518.55 369.57 L519.75 369.84 L521.35 370.01 L526.95 370.19 L539.75 370.26" stroke="#1e1e90" stroke-width="1.5" stroke-opacity="0.3" clip-path="url(#co)"/>
</g>
<line x1="28.75" y1="12.3" x2="55" y2="12.3" stroke="#cc2026" stroke-width="1.4"/>
<line x1="28.75" y1="24.0" x2="55" y2="24.0" stroke="#20208e" stroke-width="1.4"/>
<text x="59.5" y="16.8" class="lg" fill="#c91d25">experimental</text>
<text x="60.3" y="31.8" class="lg" fill="#17175e">simulated</text>
<line x1="41.82" y1="372.4" x2="41.82" y2="375.8" class="tk"/><line x1="56.44" y1="372.4" x2="56.44" y2="375.8" class="tk"/><line x1="71.06" y1="372.4" x2="71.06" y2="375.8" class="tk"/><line x1="85.68" y1="372.4" x2="85.68" y2="375.8" class="tk"/><line x1="100.30" y1="372.4" x2="100.30" y2="382.4" class="tk"/><line x1="114.92" y1="372.4" x2="114.92" y2="375.8" class="tk"/><line x1="129.54" y1="372.4" x2="129.54" y2="375.8" class="tk"/><line x1="144.16" y1="372.4" x2="144.16" y2="375.8" class="tk"/><line x1="158.78" y1="372.4" x2="158.78" y2="375.8" class="tk"/><line x1="173.40" y1="372.4" x2="173.40" y2="375.8" class="tk"/><line x1="188.02" y1="372.4" x2="188.02" y2="375.8" class="tk"/><line x1="202.64" y1="372.4" x2="202.64" y2="375.8" class="tk"/><line x1="217.26" y1="372.4" x2="217.26" y2="375.8" class="tk"/><line x1="231.88" y1="372.4" x2="231.88" y2="375.8" class="tk"/><line x1="246.50" y1="372.4" x2="246.50" y2="382.4" class="tk"/><line x1="261.12" y1="372.4" x2="261.12" y2="375.8" class="tk"/><line x1="275.74" y1="372.4" x2="275.74" y2="375.8" class="tk"/><line x1="290.36" y1="372.4" x2="290.36" y2="375.8" class="tk"/><line x1="304.98" y1="372.4" x2="304.98" y2="375.8" class="tk"/><line x1="319.60" y1="372.4" x2="319.60" y2="375.8" class="tk"/><line x1="334.22" y1="372.4" x2="334.22" y2="375.8" class="tk"/><line x1="348.84" y1="372.4" x2="348.84" y2="375.8" class="tk"/><line x1="363.46" y1="372.4" x2="363.46" y2="375.8" class="tk"/><line x1="378.08" y1="372.4" x2="378.08" y2="375.8" class="tk"/><line x1="392.70" y1="372.4" x2="392.70" y2="382.4" class="tk"/><line x1="407.32" y1="372.4" x2="407.32" y2="375.8" class="tk"/><line x1="421.94" y1="372.4" x2="421.94" y2="375.8" class="tk"/><line x1="436.56" y1="372.4" x2="436.56" y2="375.8" class="tk"/><line x1="451.18" y1="372.4" x2="451.18" y2="375.8" class="tk"/><line x1="465.80" y1="372.4" x2="465.80" y2="375.8" class="tk"/><line x1="480.42" y1="372.4" x2="480.42" y2="375.8" class="tk"/><line x1="495.04" y1="372.4" x2="495.04" y2="375.8" class="tk"/><line x1="509.66" y1="372.4" x2="509.66" y2="375.8" class="tk"/><line x1="524.28" y1="372.4" x2="524.28" y2="375.8" class="tk"/><line x1="538.90" y1="372.4" x2="538.90" y2="382.4" class="tk"/>
<rect x="28.75" y="6.25" width="510.1" height="366.1" fill="none" stroke="#000" stroke-width="1.5"/>
<text x="100.30" y="391.8" class="tl">10</text><text x="246.50" y="391.8" class="tl">20</text><text x="392.70" y="391.8" class="tl">30</text><text x="538.90" y="391.8" class="tl">40</text>
<text transform="translate(259,405.6) scale(1.04,1)" x="0" y="0" font-family="Liberation Sans, sans-serif" font-weight="bold" font-size="15.8px" fill="#111">2<tspan font-style="italic">θ</tspan>/deg</text>
<g font-family="Liberation Sans, sans-serif" font-weight="bold" fill="#111">
<text transform="translate(18.3,230.0) rotate(-90) scale(1.098,1)" font-size="14.8px">Intensity</text>
<line x1="5.6" y1="151.8" x2="19.9" y2="157.2" stroke="#111" stroke-width="2.3"/>
<text transform="translate(18.3,145.2) rotate(-90) scale(1.06,1)" font-size="14.8px">a.u.</text>
</g>
</svg>
</body></html>
